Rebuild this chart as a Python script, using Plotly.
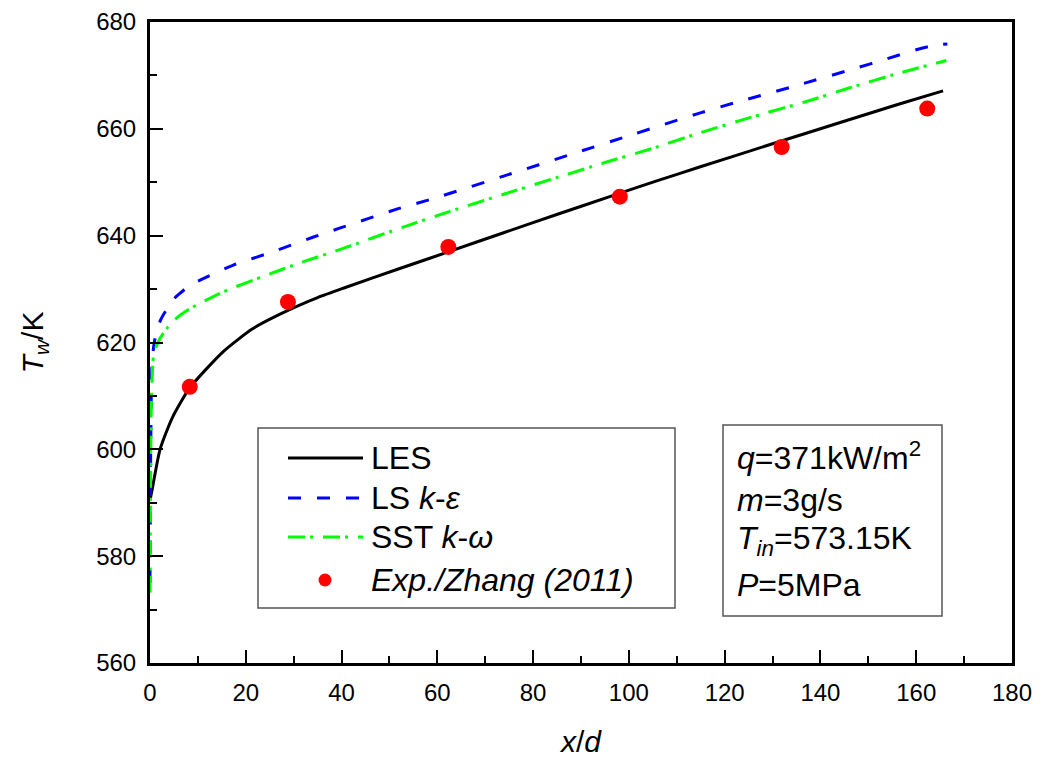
import plotly.graph_objects as go

# Wall temperature along the heated tube, x/d vs T_w (K)
les_x = [0, 0.35, 2.1, 4.7, 8.3, 15.3, 21.5, 28.8, 35, 40.5, 52, 62.4, 74, 85.4, 96, 106.3, 114.6, 130, 143.8, 156.3, 165.6]
les_y = [590.5, 592, 600, 606, 611.5, 618.3, 622.6, 626.0, 628.4, 630.2, 633.8, 637.0, 640.6, 644.1, 647.3, 650.4, 652.8, 657.2, 661.1, 664.6, 667.1]

lske_x = [0, 0.15, 0.35, 0.6, 1, 2.2, 4.8, 6, 8, 11, 17.4, 25.7, 34, 39.6, 52, 59, 74, 88.5, 101, 114.6, 122.2, 135, 147.2, 153.5, 160, 164, 166.5]
lske_y = [575, 600, 614.5, 618, 620.5, 624.2, 628.0, 629.0, 630.5, 631.9, 634.5, 637, 639.7, 641.4, 645.1, 646.9, 651.2, 655.4, 659.0, 662.9, 664.9, 668.1, 671.3, 673, 674.8, 675.7, 675.9]

sst_x = [0, 0.1, 0.25, 0.45, 0.7, 1.2, 2.1, 3.5, 5.6, 8.3, 15.3, 24.3, 31.3, 39.6, 53.5, 62.5, 74, 85.4, 95, 104.8, 114.6, 126, 138.1, 145.8, 156.3, 166.3]
sst_y = [573.15, 592, 608, 613.5, 617.3, 619, 620.8, 622.6, 624.6, 626.3, 629.5, 632.6, 634.9, 637.4, 641.8, 644.5, 647.8, 651, 653.7, 656.3, 659.2, 662.3, 665.4, 667.6, 670.4, 672.8]

exp_x = [8.3, 28.8, 62.3, 98.1, 131.9, 162.3]
exp_y = [611.7, 627.6, 637.9, 647.3, 656.6, 663.8]

x_ticks = list(range(0, 181, 20))
y_ticks = list(range(560, 681, 20))

FONT = "Liberation Sans, Arial, sans-serif"
BLUE_DASH = "13px,16px"
GREEN_DASH = "17px,5px,3px,10px"
SMOOTH = 0.6

fig = go.Figure()
fig.add_trace(go.Scatter(x=les_x, y=les_y, mode="lines", name="LES",
                         line=dict(color="#000000", width=3, shape="spline", smoothing=SMOOTH),
                         showlegend=False))
fig.add_trace(go.Scatter(x=lske_x, y=lske_y, mode="lines", name="LS k-ε",
                         line=dict(color="#0000FF", width=3, dash=BLUE_DASH, shape="spline", smoothing=SMOOTH),
                         showlegend=False))
fig.add_trace(go.Scatter(x=sst_x, y=sst_y, mode="lines", name="SST k-ω",
                         line=dict(color="#00FF00", width=3, dash=GREEN_DASH, shape="spline", smoothing=SMOOTH),
                         showlegend=False))
fig.add_trace(go.Scatter(x=exp_x, y=exp_y, mode="markers", name="Exp./Zhang (2011)",
                         marker=dict(color="#FF0000", size=16, line=dict(width=0)), showlegend=False))

# plot-area pixel geometry, used to place the legend and the condition box
L, R, T, B = 150, 1012, 22, 663
def px(xp):
    return (xp - L) / (R - L)
def py(yp):
    return (B - yp) / (B - T)

shapes = []
annotations = []

# legend frame
shapes.append(dict(type="rect", xref="paper", yref="paper",
                   x0=px(258), x1=px(675), y0=py(608), y1=py(428),
                   line=dict(color="#555555", width=1.5), fillcolor="white", layer="below"))
rows = [458, 498, 537, 580]
labels = ["LES", "LS <i>k</i>-<i>ε</i>", "SST <i>k</i>-<i>ω</i>", "<i>Exp./Zhang (2011)</i>"]
styles = [("#000000", "solid"), ("#0000FF", BLUE_DASH), ("#00FF00", GREEN_DASH)]
for yp, (col, dash) in zip(rows[:3], styles):
    shapes.append(dict(type="line", xref="paper", yref="paper",
                       x0=px(288), x1=px(363), y0=py(yp), y1=py(yp),
                       line=dict(color=col, width=3, dash=dash)))
shapes.append(dict(type="circle", xref="paper", yref="paper",
                   xsizemode="pixel", ysizemode="pixel",
                   xanchor=px(325), yanchor=py(rows[3]),
                   x0=-6.5, x1=6.5, y0=-6.5, y1=6.5,
                   fillcolor="#FF0000", line=dict(width=0)))
for yp, txt in zip(rows, labels):
    annotations.append(dict(xref="paper", yref="paper", x=px(369), y=py(yp),
                            xanchor="left", yanchor="middle", showarrow=False,
                            text=txt, font=dict(family=FONT, size=32, color="black")))

# operating-condition box
shapes.append(dict(type="rect", xref="paper", yref="paper",
                   x0=px(723), x1=px(942), y0=py(616), y1=py(425),
                   line=dict(color="#555555", width=1.5), fillcolor="white", layer="below"))
cond_rows = [456, 500, 540, 585]
cond_text = ["<i>q</i>=371kW/m<sup>2</sup>", "<i>m</i>=3g/s",
             "<i>T</i><sub><i>in</i></sub>=573.15K", "<i>P</i>=5MPa"]
for yp, txt in zip(cond_rows, cond_text):
    annotations.append(dict(xref="paper", yref="paper", x=px(735), y=py(yp),
                            xanchor="left", yanchor="middle", showarrow=False,
                            text=txt, font=dict(family=FONT, size=32, color="black")))

fig.update_layout(
    width=1040, height=760,
    margin=dict(l=L, r=1040 - R, t=T, b=760 - B, autoexpand=False),
    paper_bgcolor="white", plot_bgcolor="white",
    font=dict(family=FONT, color="black"),
    shapes=shapes, annotations=annotations,
    showlegend=False,
)
fig.update_xaxes(
    range=[0, 180], tickvals=x_ticks, ticktext=[str(v) for v in x_ticks],
    showgrid=False, zeroline=False, automargin=False,
    showline=True, linecolor="black", linewidth=3, mirror=True,
    ticks="inside", ticklen=13, tickwidth=2, tickcolor="black",
    minor=dict(ticks="inside", ticklen=7, tickwidth=2, tickcolor="black", dtick=10, showgrid=False),
    tickfont=dict(family=FONT, size=24), ticklabelstandoff=6,
    title=dict(text="<i>x</i>/<i>d</i>", font=dict(family=FONT, size=30), standoff=27),
)
fig.update_yaxes(
    range=[560, 680], tickvals=y_ticks, ticktext=[str(v) for v in y_ticks],
    showgrid=False, zeroline=False, automargin=False,
    showline=True, linecolor="black", linewidth=3, mirror=True,
    ticks="inside", ticklen=13, tickwidth=2, tickcolor="black",
    minor=dict(ticks="inside", ticklen=7, tickwidth=2, tickcolor="black", dtick=10, showgrid=False),
    tickfont=dict(family=FONT, size=24), ticklabelstandoff=6,
    title=dict(text="<i>T</i><sub><i>w</i></sub>/K", font=dict(family=FONT, size=30), standoff=44),
)

fig.write_html("out.html")
